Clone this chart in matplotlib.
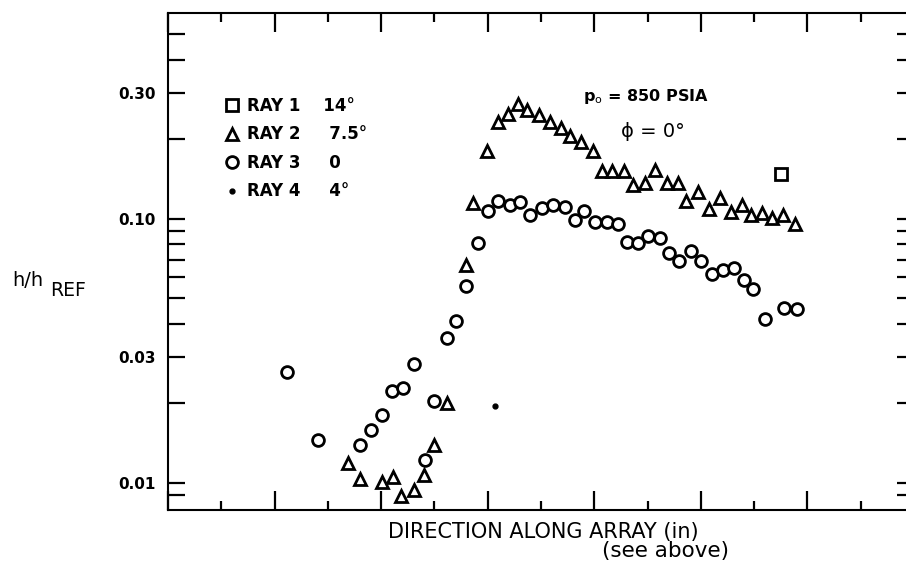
import matplotlib
matplotlib.use("Agg")
import matplotlib.pyplot as plt

# RAY 1 (14 deg), square
x_ray1 = [11.51]
h_ray1 = [0.147]

# RAY 2 (7.5 deg), triangles
x_ray2 = [3.37, 3.60, 4.02, 4.23, 4.38, 4.62, 4.81, 4.99, 5.23, 5.59,
          5.73, 5.98, 6.20, 6.38, 6.57, 6.74, 6.96, 7.17, 7.37, 7.54,
          7.76, 7.98, 8.14, 8.34, 8.56, 8.72, 8.95, 9.14, 9.37, 9.58,
          9.72, 9.95, 10.15, 10.36, 10.57, 10.77, 10.94, 11.14, 11.33, 11.54, 11.76]
h_ray2 = [0.0119, 0.01035, 0.0101, 0.0105, 0.00893, 0.00938, 0.0107, 0.0139, 0.0200, 0.0669,
          0.115, 0.181, 0.232, 0.249, 0.272, 0.257, 0.247, 0.233, 0.221, 0.206,
          0.195, 0.181, 0.152, 0.152, 0.151, 0.134, 0.136, 0.153, 0.136, 0.136,
          0.117, 0.126, 0.109, 0.120, 0.106, 0.113, 0.1036, 0.1046, 0.1002, 0.1031, 0.0957]

# RAY 3 (0 deg), circles
x_ray3 = [2.23, 2.82, 3.60, 3.81, 4.01, 4.20, 4.41, 4.62, 4.82, 5.00,
          5.24, 5.40, 5.59, 5.82, 6.01, 6.20, 6.42, 6.60, 6.80, 7.01,
          7.23, 7.45, 7.64, 7.80, 8.01, 8.23, 8.45, 8.62, 8.82, 9.01,
          9.23, 9.41, 9.59, 9.81, 10.01, 10.20, 10.41, 10.62, 10.81, 10.98,
          11.20, 11.56, 11.80]
h_ray3 = [0.0264, 0.0146, 0.0139, 0.0158, 0.0181, 0.0222, 0.0229, 0.0283, 0.0122, 0.0205,
          0.0353, 0.0411, 0.0557, 0.0806, 0.107, 0.117, 0.113, 0.116, 0.1035, 0.110,
          0.113, 0.111, 0.0989, 0.107, 0.0968, 0.0968, 0.0953, 0.0813, 0.0811, 0.0862,
          0.0847, 0.0739, 0.0693, 0.0756, 0.0693, 0.0617, 0.0639, 0.0650, 0.0586, 0.0542,
          0.0417, 0.0461, 0.0455]

# RAY 4 (4 deg), dot
x_ray4 = [6.14]
h_ray4 = [0.0196]

legend_labels = ["RAY 1    14\u00b0", "RAY 2     7.5\u00b0", "RAY 3     0", "RAY 4     4\u00b0"]
y_major = [0.01, 0.03, 0.10, 0.30]
y_major_labels = ["0.01", "0.03", "0.10", "0.30"]
y_minor = [0.009, 0.02, 0.04, 0.05, 0.06, 0.07, 0.08, 0.09, 0.2, 0.4, 0.5]

fig = plt.figure(figsize=(9.06, 5.65), dpi=100)
ax = fig.add_axes([168 / 906, 1 - 510 / 565, 746 / 906, 497 / 565])

mk = dict(linestyle="none", markerfacecolor="white", markeredgecolor="black",
          markeredgewidth=2.0, clip_on=False)
l1, = ax.plot(x_ray1, h_ray1, marker="s", markersize=8, **mk)
l2, = ax.plot(x_ray2, h_ray2, marker="^", markersize=9, **mk)
l3, = ax.plot(x_ray3, h_ray3, marker="o", markersize=8.5, **mk)
l4, = ax.plot(x_ray4, h_ray4, marker="o", markersize=3.5, linestyle="none",
              color="black")

ax.set_yscale("log")
ax.set_ylim(0.0079, 0.60)
ax.set_xlim(0, 14)

ax.set_yticks(y_major)
ax.set_yticklabels(y_major_labels, fontsize=11, fontweight="bold")
ax.set_yticks(y_minor, minor=True)
ax.set_yticklabels([], minor=True)
ax.set_xticks(range(0, 15, 2))
ax.set_xticks(range(1, 15, 2), minor=True)
ax.set_xticklabels([])

ax.tick_params(axis="y", which="both", direction="in", left=True, right=True,
               length=12, width=1.6, pad=9)
ax.tick_params(axis="x", which="major", direction="in", top=True, bottom=True,
               length=14, width=1.6)
ax.tick_params(axis="x", which="minor", direction="in", top=True, bottom=True,
               length=6.5, width=1.6)
for s in ax.spines.values():
    s.set_linewidth(1.5)

leg = ax.legend([l1, l2, l3, l4], legend_labels, loc="upper left",
                bbox_to_anchor=(0.075, 0.831), frameon=False, numpoints=1,
                borderpad=0, borderaxespad=0, handlelength=1.0,
                handletextpad=0.38, labelspacing=0.63,
                prop=dict(size=12, weight="bold"))

ax.text(0.641, 0.831, r"p$_{\rm o}$ = 850 PSIA", transform=ax.transAxes,
        ha="center", va="center", fontsize=11.5, fontweight="bold")
ax.text(0.650, 0.762, "\u03d5 = 0\u00b0", transform=ax.transAxes,
        ha="center", va="center", fontsize=14)

fig.text(12 / 906, 1 - 280 / 565, "h/h", fontsize=14, ha="left", va="center")
fig.text(50 / 906, 1 - 291 / 565, "REF", fontsize=13.5, ha="left", va="center")

fig.text(543 / 906, 1 - 532 / 565, "DIRECTION ALONG ARRAY (in)", fontsize=15,
         ha="center", va="center")
fig.text(665 / 906, 1 - 551 / 565, "(see above)", fontsize=15.5,
         ha="center", va="center")

fig.savefig("out.png", dpi=100)
